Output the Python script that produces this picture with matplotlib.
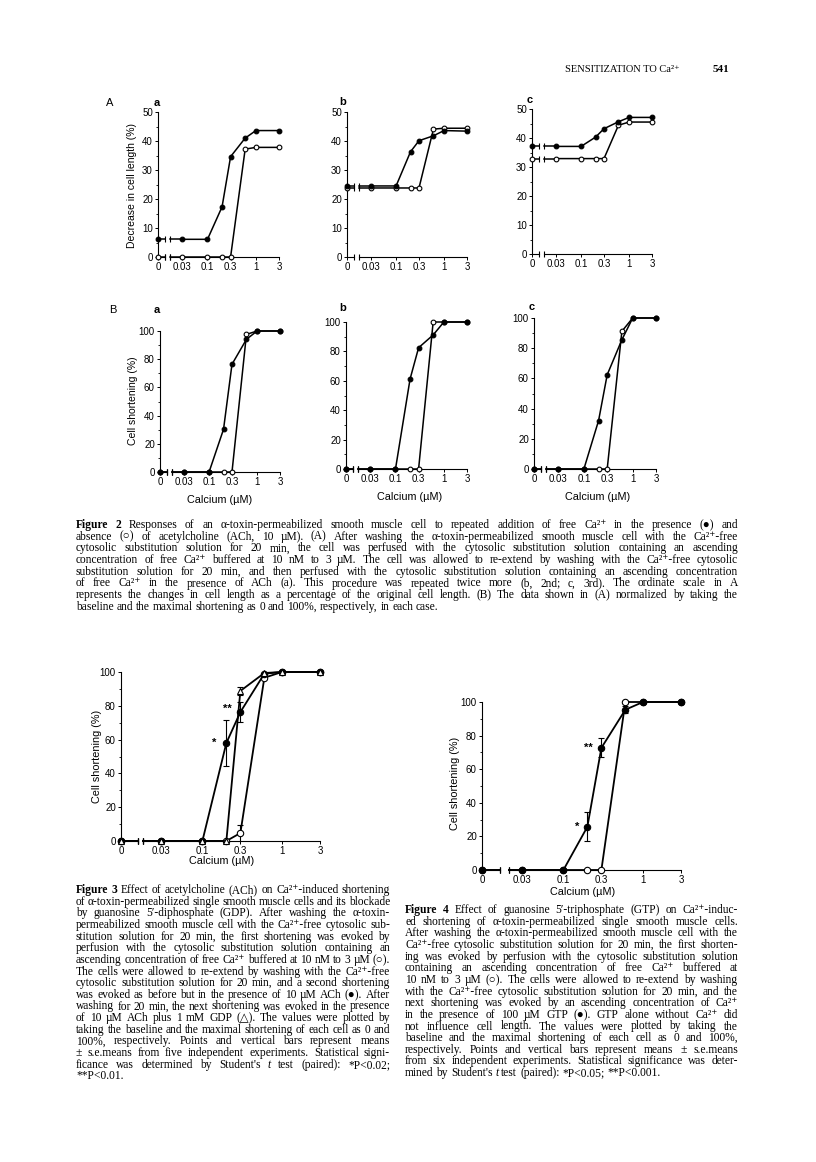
import matplotlib
matplotlib.use('Agg')
import matplotlib.pyplot as plt
from matplotlib.ticker import MultipleLocator, NullLocator

W, H = 816, 1162
SANS = ['Liberation Sans', 'DejaVu Sans']
SERIF = ['Liberation Serif', 'DejaVu Serif']
plt.rcParams['font.family'] = SANS

# free Ca2+ (uM); 0 is drawn left of the axis break
conc = [0, 0.03, 0.1, 0.2, 0.3, 0.6, 1, 3]
tick_conc = [0, 0.03, 0.1, 0.3, 1, 3]
tick_text = ['0', '0.03', '0.1', '0.3', '1', '3']

# Figure 2A: decrease in cell length (%), with ACh (filled) / without (open)
a_ach_A = [6.1, 6.1, 6.1, 17.3, 34.6, 41.0, 43.6, 43.6]
a_ctl_A = [0, 0, 0, 0, 0, 37.2, 37.8, 37.8]
b_ach_A = [24.5, 24.5, 24.5, 36.3, 40.1, 41.8, 43.6, 43.4]
b_ctl_A = [23.8, 23.8, 23.8, 23.8, 23.8, 44.1, 44.4, 44.4]
c_ach_A = [37.1, 37.1, 37.1, 40.3, 43.2, 45.6, 47.1, 47.1]
c_ctl_A = [32.9, 32.9, 32.9, 32.9, 32.9, 44.4, 45.5, 45.5]

# Figure 2B: normalised cell shortening (%)
a_ach_B = [0, 0, 0, 30.3, 76.4, 94.1, 100, 100]
a_ctl_B = [0, 0, 0, 0, 0, 97.6, 100, 100]
b_ach_B = [0, 0, 0, 61.2, 82.5, 91.2, 100, 100]
b_ctl_B = [0, 0, 0, 0, 0, 100, 100, 100]
c_ach_B = [0, 0, 0, 32.1, 62.4, 85.6, 100, 100]
c_ctl_B = [0, 0, 0, 0, 0, 91.2, 100, 100]

# Figure 3: control (open), ACh (filled), ACh + GDP (triangles), means and s.e.
f3_ctl = [0, 0, 0, 0, 4.7, 96.6, 100, 100]
f3_ctl_se = [0, 0, 0, 0, 5, 0, 0, 0]
f3_ach = [0, 0, 0, 58, 76.3, 99, 100, 100]
f3_ach_se = [0, 0, 0, 13.5, 6, 0, 0, 0]
f3_gdp = [0, 0, 0, 0, 88.8, 99.4, 100, 100]
f3_gdp_se = [0, 0, 0, 0, 2.5, 0, 0, 0]

# Figure 4: control (open), GTP (filled)
f4_ctl = [0, 0, 0, 0, 0, 100, 100, 100]
f4_gtp = [0, 0, 0, 25.7, 72.7, 95.4, 100, 100]
f4_gtp_se = [0, 0, 0, 8.6, 5.6, 2.2, 0, 0]

X0 = 0.0095  # log-axis position used for "0"

fig = plt.figure(figsize=(W / 100, H / 100), dpi=100)


def add_ax(x0, x1, ybot, ytop):
    return fig.add_axes([x0 / W, 1 - ybot / H, (x1 - x0) / W, (ybot - ytop) / H])


def xpos(vals):
    return [X0 if v == 0 else v for v in vals]


def setup(ax, ymax, major, minor, brk):
    ax.set_xscale('log')
    ax.set_xlim(X0, 3)
    ax.set_ylim(0, ymax)
    ax.set_xticks(xpos(tick_conc), tick_text)
    ax.xaxis.set_minor_locator(NullLocator())
    ax.yaxis.set_major_locator(MultipleLocator(major))
    ax.yaxis.set_minor_locator(MultipleLocator(minor))
    for s in ['top', 'right', 'bottom']:
        ax.spines[s].set_visible(False)
    ax.spines['left'].set_linewidth(0.8)
    ax.tick_params(which='major', direction='out', length=2.5, width=0.7,
                   labelsize=7, pad=1.2)
    ax.tick_params(axis='y', which='minor', direction='out', length=1.4, width=0.6)
    ax.patch.set_alpha(0)
    ax.plot([X0, brk[0]], [0, 0], color='k', lw=0.8, clip_on=False)
    ax.plot([brk[1], 3], [0, 0], color='k', lw=0.8, clip_on=False)
    ax.plot(brk, [0, 0], ls='none', marker='|', ms=4.5, mew=0.8, color='k', clip_on=False)


def series(ax, y, brk, filled, ms, lw, marker='o', se=None, z=3):
    x = xpos(conc)
    kw = dict(color='k', lw=lw, clip_on=False, zorder=z)
    ax.plot([x[0], brk[0]], [y[0], y[0]], **kw)
    ax.plot([brk[1], x[1]], [y[1], y[1]], **kw)
    ax.plot(x[1:], y[1:], **kw)
    ax.plot(brk, [y[0], y[1]], ls='none', marker='|', ms=4.5, mew=0.8,
            color='k', clip_on=False, zorder=z)
    if se is not None:
        idx = [i for i, e in enumerate(se) if e > 0]
        ax.errorbar([x[i] for i in idx], [y[i] for i in idx], yerr=[se[i] for i in idx],
                    fmt='none', ecolor='k', elinewidth=0.8, capsize=2, capthick=0.8, zorder=z)
    ax.plot(x, y, ls='none', marker=marker, ms=ms, mfc='k' if filled else 'white',
            mec='k', mew=0.8, clip_on=False, zorder=z + 0.5)


def label(x, y, s, size=7.5, **kw):
    fig.text(x / W, 1 - y / H, s, fontsize=size, ha='center', va='center', **kw)


# ---- Figure 2 ----
BRK2 = (0.0133, 0.017)
rowA = [((158, 279, 257, 112), a_ach_A, a_ctl_A),
        ((347, 467, 257, 112), b_ach_A, b_ctl_A),
        ((532, 652, 254, 109), c_ach_A, c_ctl_A)]
rowB = [((160, 280, 472, 331), a_ach_B, a_ctl_B),
        ((346, 467, 469, 322), b_ach_B, b_ctl_B),
        ((534, 656, 469, 318), c_ach_B, c_ctl_B)]

for rect, ach, ctl in rowA:
    ax = add_ax(*rect)
    setup(ax, 50, 10, 5, BRK2)
    series(ax, ctl, BRK2, False, 3.4, 1.1, z=3)
    series(ax, ach, BRK2, True, 3.4, 1.1, z=4)

for rect, ach, ctl in rowB:
    ax = add_ax(*rect)
    setup(ax, 100, 20, 10, BRK2)
    series(ax, ctl, BRK2, False, 3.4, 1.1, z=3)
    series(ax, ach, BRK2, True, 3.4, 1.1, z=4)

label(110, 103, 'A', 8)
label(113, 310, 'B', 8)
for x, y, s in [(157, 103, 'a'), (343, 102, 'b'), (530, 100, 'c'),
                (157, 310, 'a'), (343, 308, 'b'), (532, 307, 'c')]:
    label(x, y, s, 8, weight='bold')
label(132, 185, 'Decrease in cell length (%)', 7.5, rotation=90)
label(133, 401, 'Cell shortening (%)', 7.5, rotation=90)
for x, y in [(220, 500), (410, 497), (598, 497)]:
    label(x, y, 'Calcium (µM)', 7.8)

# ---- Figure 3 ----
BRK3 = (0.0155, 0.018)
ax3 = add_ax(121, 320, 841, 672)
setup(ax3, 100, 20, 10, BRK3)
series(ax3, f3_ctl, BRK3, False, 4.6, 1.3, se=f3_ctl_se, z=3)
series(ax3, f3_ach, BRK3, True, 4.6, 1.3, se=f3_ach_se, z=4)
series(ax3, f3_gdp, BRK3, False, 5.0, 1.3, marker='^', se=f3_gdp_se, z=5)
ax3.annotate('*', (0.2, f3_ach[3]), xytext=(-7, 0), textcoords='offset points',
             ha='right', va='center', fontsize=8, weight='bold')
ax3.annotate('**', (0.3, f3_ach[4]), xytext=(-6, 2), textcoords='offset points',
             ha='right', va='center', fontsize=8, weight='bold')
label(97, 756, 'Cell shortening (%)', 7.8, rotation=90)
label(222, 861, 'Calcium (µM)', 7.8)

# ---- Figure 4 ----
BRK4 = (0.0159, 0.021)
ax4 = add_ax(482, 681, 870, 702)
setup(ax4, 100, 20, 10, BRK4)
series(ax4, f4_ctl, BRK4, False, 4.6, 1.3, z=3)
series(ax4, f4_gtp, BRK4, True, 4.6, 1.3, se=f4_gtp_se, z=4)
ax4.annotate('*', (0.2, f4_gtp[3]), xytext=(-6, 0), textcoords='offset points',
             ha='right', va='center', fontsize=8, weight='bold')
ax4.annotate('**', (0.3, f4_gtp[4]), xytext=(-6, 0), textcoords='offset points',
             ha='right', va='center', fontsize=8, weight='bold')
label(455, 783, 'Cell shortening (%)', 7.8, rotation=90)
label(583, 892, 'Calcium (µM)', 7.8)

# ---- running head and captions ----
fig.text(565 / W, 1 - 72 / H, 'SENSITIZATION TO Ca²⁺', fontsize=7.5, family=SERIF)
fig.text(713 / W, 1 - 72 / H, '541', fontsize=8, family=SERIF, weight='bold')

cap2 = [
    "#Figure #2 Responses of an α-toxin-permeabilized smooth muscle cell to repeated addition of free Ca²⁺ in the presence (●) and",
    "absence (○) of acetylcholine (ACh, 10 µM). (A) After washing the α-toxin-permeabilized smooth muscle cell with the Ca²⁺-free",
    "cytosolic substitution solution for 20 min, the cell was perfused with the cytosolic substitution solution containing an ascending",
    "concentration of free Ca²⁺ buffered at 10 nM to 3 µM. The cell was allowed to re-extend by washing with the Ca²⁺-free cytosolic",
    "substitution solution for 20 min, and then perfused with the cytosolic substitution solution containing an ascending concentration",
    "of free Ca²⁺ in the presence of ACh (a). This procedure was repeated twice more (b, 2nd; c, 3rd). The ordinate scale in A",
    "represents the changes in cell length as a percentage of the original cell length. (B) The data shown in (A) normalized by taking the",
    "baseline and the maximal shortening as 0 and 100%, respectively, in each case.",
]
cap3 = [
    "#Figure #3 Effect of acetylcholine (ACh) on Ca²⁺-induced shortening",
    "of α-toxin-permeabilized single smooth muscle cells and its blockade",
    "by guanosine 5′-diphosphate (GDP). After washing the α-toxin-",
    "permeabilized smooth muscle cell with the Ca²⁺-free cytosolic sub-",
    "stitution solution for 20 min, the first shortening was evoked by",
    "perfusion with the cytosolic substitution solution containing an",
    "ascending concentration of free Ca²⁺ buffered at 10 nM to 3 µM (○).",
    "The cells were allowed to re-extend by washing with the Ca²⁺-free",
    "cytosolic substitution solution for 20 min, and a second shortening",
    "was evoked as before but in the presence of 10 µM ACh (●). After",
    "washing for 20 min, the next shortening was evoked in the presence",
    "of 10 µM ACh plus 1 mM GDP (△). The values were plotted by",
    "taking the baseline and the maximal shortening of each cell as 0 and",
    "100%, respectively. Points and vertical bars represent means",
    "± s.e.means from five independent experiments. Statistical signi-",
    "ficance was determined by Student's ~t test (paired): *P<0.02;",
    "**P<0.01.",
]
cap4 = [
    "#Figure #4 Effect of guanosine 5′-triphosphate (GTP) on Ca²⁺-induc-",
    "ed shortening of α-toxin-permeabilized single smooth muscle cells.",
    "After washing the α-toxin-permeabilized smooth muscle cell with the",
    "Ca²⁺-free cytosolic substitution solution for 20 min, the first shorten-",
    "ing was evoked by perfusion with the cytosolic substitution solution",
    "containing an ascending concentration of free Ca²⁺ buffered at",
    "10 nM to 3 µM (○). The cells were allowed to re-extend by washing",
    "with the Ca²⁺-free cytosolic substitution solution for 20 min, and the",
    "next shortening was evoked by an ascending concentration of Ca²⁺",
    "in the presence of 100 µM GTP (●). GTP alone without Ca²⁺ did",
    "not influence cell length. The values were plotted by taking the",
    "baseline and the maximal shortening of each cell as 0 and 100%,",
    "respectively. Points and vertical bars represent means ± s.e.means",
    "from six independent experiments. Statistical significance was deter-",
    "mined by Student's ~t test (paired): *P<0.05; **P<0.001.",
]


def paragraph(lines, x0, x1, y0, dy, size=8.3):
    # justified block, one text per word
    r = fig.canvas.get_renderer()
    space = size * 100 / 72 * 0.25
    for i, line in enumerate(lines):
        y = 1 - (y0 + i * dy) / H
        words = []
        for w in line.split(' '):
            weight, style = 'normal', 'normal'
            if w.startswith('#'):
                w, weight = w[1:], 'bold'
            if w.startswith('~'):
                w, style = w[1:], 'italic'
            words.append(fig.text(0, y, w, fontsize=size, family=SERIF,
                                  weight=weight, style=style))
        widths = [t.get_window_extent(r).width for t in words]
        if i == len(lines) - 1 or len(words) == 1:
            gap = space
        else:
            gap = max(((x1 - x0) - sum(widths)) / (len(words) - 1), 0.6 * space)
        x = x0
        for t, wd in zip(words, widths):
            t.set_x(x / W)
            x += wd + gap


paragraph(cap2, 76, 738, 528, 11.7)
paragraph(cap3, 76, 390, 893, 11.65)
paragraph(cap4, 405, 738, 913, 11.65)

fig.savefig('out.png', dpi=100)
